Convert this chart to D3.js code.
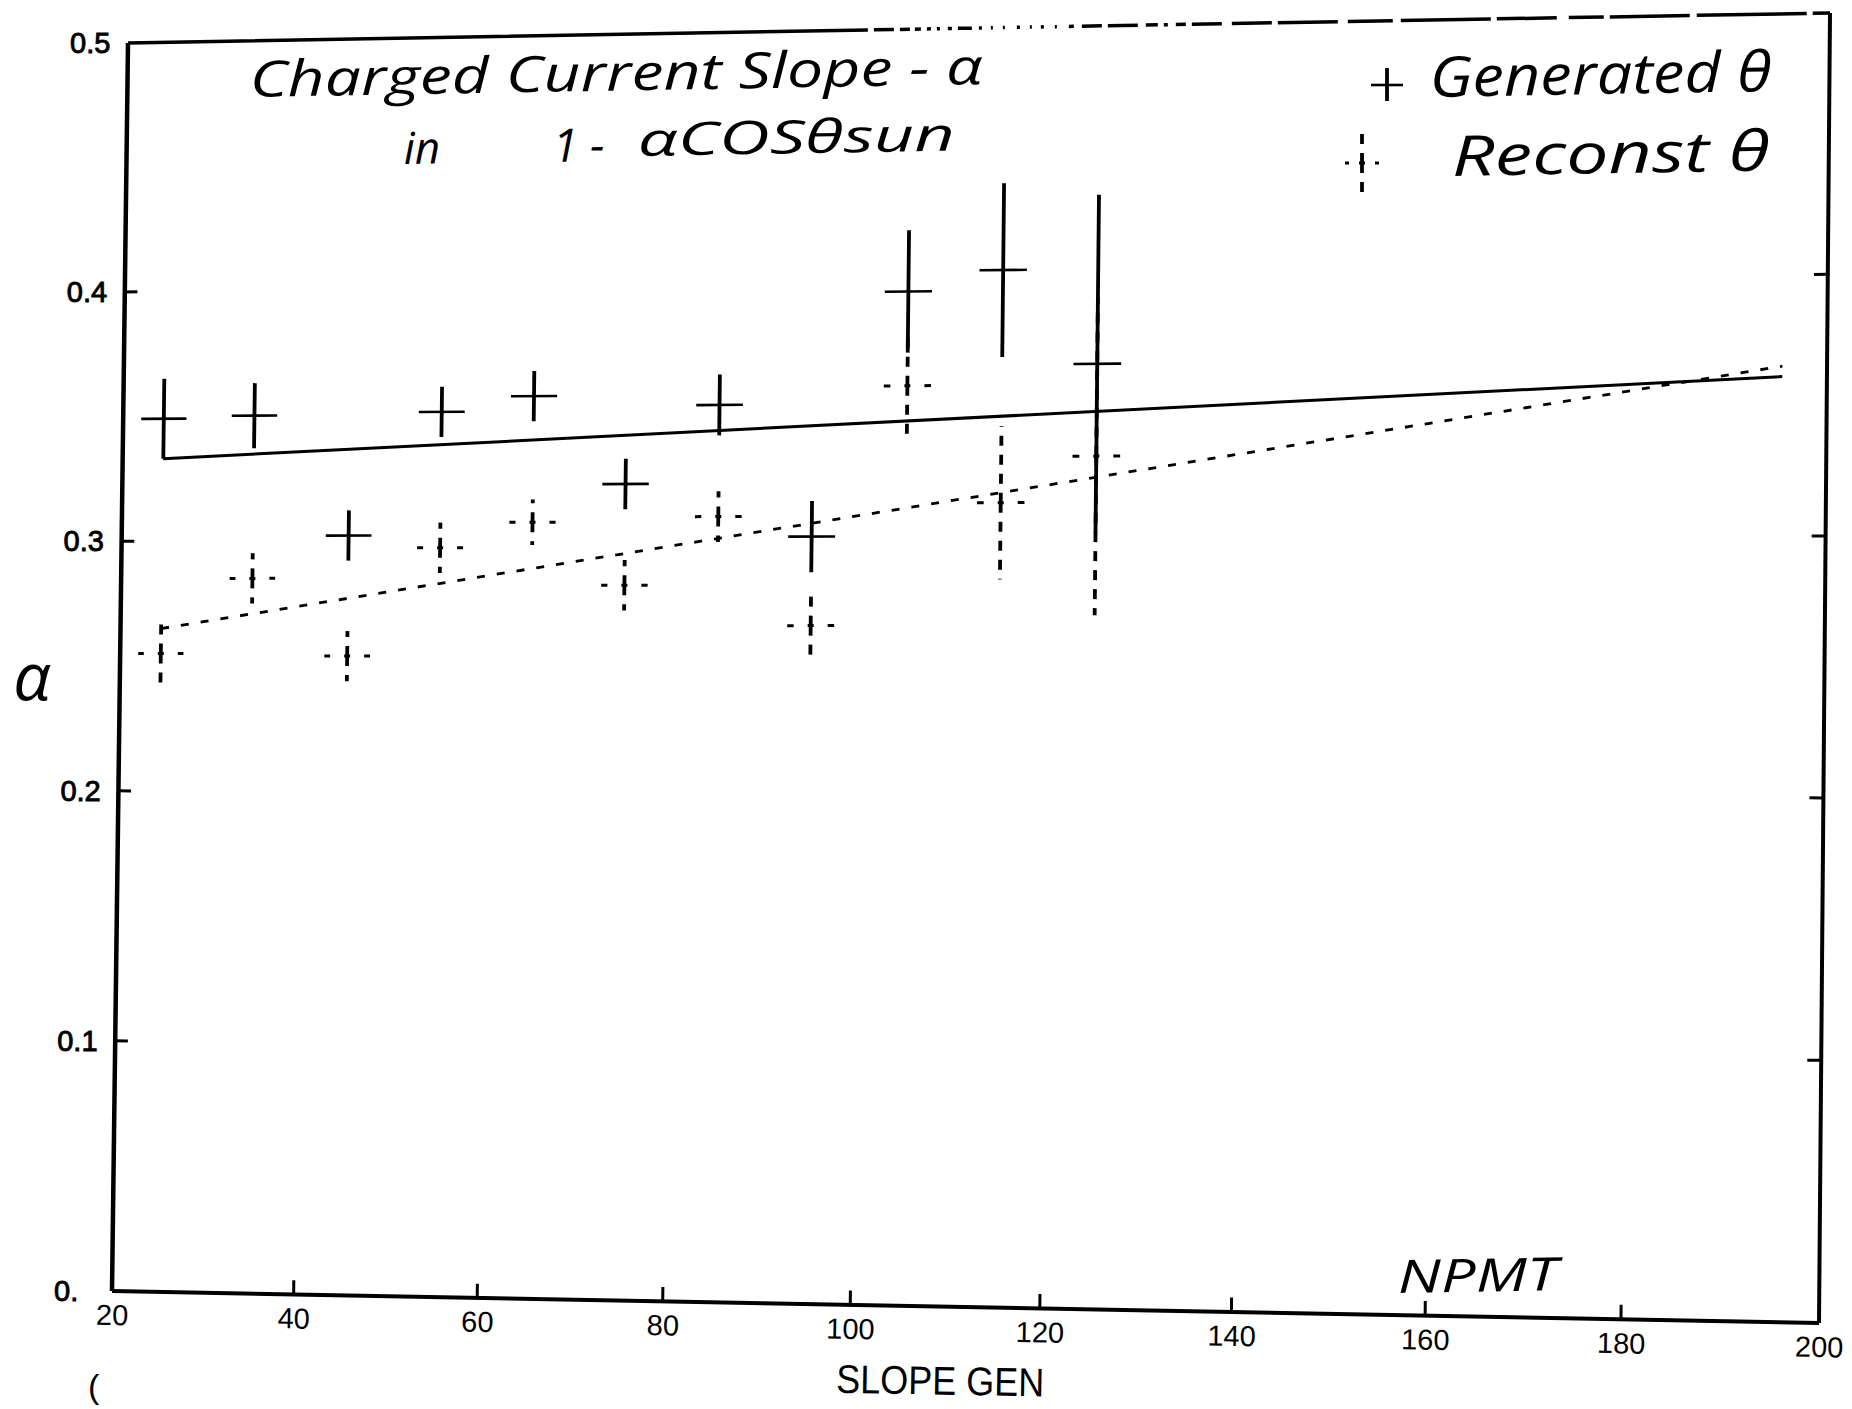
<!DOCTYPE html>
<html>
<head>
<meta charset="utf-8">
<script src="https://cdn.jsdelivr.net/npm/d3@7"></script>
<style>
  html, body { margin: 0; padding: 0; background: #fff; }
  svg { display: block; }
  .tick-label { font-family: "Liberation Sans", Arial, sans-serif; fill: #000; }
  .hand { font-family: "Open Sans", "DejaVu Sans", sans-serif; font-style: italic; fill: #000; }
</style>
</head>
<body>
<div id="plot"></div>
<script>
// alpha fit results per NPMT bin
const npmt     = [24.5, 34.5, 45, 55, 65, 75, 85, 95, 105, 115, 125];
const alphaGen = [0.349, 0.350, 0.302, 0.351, 0.357, 0.322, 0.353, 0.301, 0.397, 0.405, 0.368];
const errGen   = [0.016, 0.013, 0.010, 0.010, 0.010, 0.010, 0.012, 0.014, 0.024, 0.034, 0.066];
const alphaRec = [0.255, 0.285, 0.254, 0.297, 0.307, 0.282, 0.309, 0.266, 0.360, 0.314, 0.332];
const errRec   = [0.014, 0.010, 0.010, 0.010, 0.009, 0.010, 0.010, 0.013, 0.020, 0.030, 0.062];
const binHalf  = 2.5;

// straight-line fits
const fitX   = [24.5, 195.5];
const fitGen = [0.333, 0.361];
const fitRec = [0.265, 0.365];

const xTicks = [20, 40, 60, 80, 100, 120, 140, 160, 180, 200];
const yTicks = [0, 0.1, 0.2, 0.3, 0.4, 0.5];
const yTickLabels = ["0.", "0.1", "0.2", "0.3", "0.4", "0.5"];

const width = 1852, height = 1409;

const svg = d3.select('#plot').append('svg')
  .attr('width', width)
  .attr('height', height);

const x = d3.scaleLinear().domain([20, 200]).range([0, 1]);
const y = d3.scaleLinear().domain([0, 0.5]).range([0, 1]);

// the printed sheet sits a little askew: map the unit square onto its frame
function quadMap(p00, p10, p11, p01) {
  const [x0, y0] = p00, [x1, y1] = p10, [x2, y2] = p11, [x3, y3] = p01;
  const dx1 = x1 - x2, dx2 = x3 - x2, dx3 = x0 - x1 + x2 - x3;
  const dy1 = y1 - y2, dy2 = y3 - y2, dy3 = y0 - y1 + y2 - y3;
  const den = dx1 * dy2 - dx2 * dy1;
  const g = (dx3 * dy2 - dx2 * dy3) / den;
  const h = (dx1 * dy3 - dx3 * dy1) / den;
  const a = x1 - x0 + g * x1, b = x3 - x0 + h * x3, c = x0;
  const d = y1 - y0 + g * y1, e = y3 - y0 + h * y3, f = y0;
  return (u, v) => {
    const w = g * u + h * v + 1;
    return [(a * u + b * v + c) / w, (d * u + e * v + f) / w];
  };
}
const sheet = quadMap([112, 1291], [1819, 1323], [1830, 13], [128, 43]);
const P = (xv, yv) => sheet(x(xv), y(yv));

const line = d3.line();
const seg = (g, a, b) => g.append('path').attr('d', line([a, b]));

// frame; the top edge is only partly inked
const frame = svg.append('g').attr('fill', 'none').attr('stroke', '#000');
seg(frame, P(20, 0), P(20, 0.5)).attr('stroke-width', 4.5);
seg(frame, P(20, 0), P(200, 0)).attr('stroke-width', 4);
seg(frame, P(200, 0), P(200, 0.5)).attr('stroke-width', 4);
const topDash = [740, 6, 20, 6, 10, 5, 6, 6, 4, 6, 3, 8, 4, 6, 14, 7, 3, 9, 2, 10, 2, 12, 3, 10, 2, 9,
  3, 11, 2, 12, 5, 8, 20, 6, 30, 8, 12, 6, 4, 8, 10, 6, 30, 10, 40, 6,
  60, 10, 45, 8, 90, 6, 60, 12, 35, 6, 80, 7, 110, 6, 70, 8, 400, 0];
seg(frame, P(20, 0.5), P(200, 0.5)).attr('stroke-width', 3.5)
  .attr('stroke-dasharray', topDash.join(','));

// ticks, pointing into the frame
const ticks = svg.append('g').attr('stroke', '#000').attr('stroke-width', 3).attr('fill', 'none');
xTicks.slice(1, -1).forEach(t => seg(ticks, P(t, 0), P(t, 0.0056)));
yTicks.slice(1, -1).forEach(t => {
  seg(ticks, P(20, t), P(21.4, t));
  seg(ticks, P(200, t), P(198.6, t));
});

// tick labels
const labels = svg.append('g');
xTicks.forEach(t => {
  const [px, py] = P(t, 0);
  labels.append('text')
    .attr('class', 'tick-label')
    .attr('x', px).attr('y', py + 34)
    .attr('text-anchor', 'middle')
    .attr('font-size', 29)
    .attr('transform', `rotate(1, ${px}, ${py + 34})`)
    .text(t);
});
yTicks.forEach((t, i) => {
  const [px, py] = P(20, t);
  labels.append('text')
    .attr('class', 'tick-label')
    .attr('x', px - 58).attr('y', py + 10)
    .attr('font-size', 29)
    .attr('stroke', '#000').attr('stroke-width', 0.9)
    .text(yTickLabels[i]);
});

// axis titles
const [tx, ty] = P(109.5, 0);
svg.append('text')
  .attr('class', 'tick-label')
  .attr('transform', `translate(${tx}, ${ty + 88}) rotate(1) scale(0.9, 1)`)
  .attr('text-anchor', 'middle')
  .attr('font-size', 40)
  .attr('fill', '#222')
  .text('SLOPE GEN');
svg.append('text')
  .attr('class', 'tick-label')
  .attr('x', 88).attr('y', 1398)
  .attr('font-size', 34)
  .text('(');
svg.append('text')
  .attr('class', 'hand')
  .attr('x', 32).attr('y', 700)
  .attr('text-anchor', 'middle')
  .attr('font-size', 66)
  .attr('font-style', 'normal')
  .text('α');

// fit lines
svg.append('path')
  .attr('d', line(fitX.map((v, i) => P(v, fitGen[i]))))
  .attr('fill', 'none').attr('stroke', '#000').attr('stroke-width', 3);
svg.append('path')
  .attr('d', line(fitX.map((v, i) => P(v, fitRec[i]))))
  .attr('fill', 'none').attr('stroke', '#000').attr('stroke-width', 2.8)
  .attr('stroke-dasharray', '8,12');

// generated theta: solid crosses
const gen = svg.append('g').attr('stroke', '#000').attr('fill', 'none');
npmt.forEach((n, i) => {
  const a = alphaGen[i], e = errGen[i];
  seg(gen, P(n, a - e), P(n, a + e)).attr('stroke-width', 3.8);
  seg(gen, P(n - binHalf, a), P(n + binHalf, a)).attr('stroke-width', 2.6);
});

// reconstructed theta: dashed crosses, dashes laid out from the centre
const rec = svg.append('g').attr('stroke', '#000').attr('fill', 'none');
npmt.forEach((n, i) => {
  const a = alphaRec[i], e = errRec[i];
  const c = P(n, a);
  seg(rec, c, P(n, a + e)).attr('stroke-width', 3.8).attr('stroke-dasharray', '10,9');
  seg(rec, c, P(n, a - e)).attr('stroke-width', 3.8).attr('stroke-dasharray', '10,9');
  seg(rec, c, P(n - binHalf, a)).attr('stroke-width', 3).attr('stroke-dasharray', '3,14,8');
  seg(rec, c, P(n + binHalf, a)).attr('stroke-width', 3).attr('stroke-dasharray', '3,14,8');
});

// hand-written notes
const notes = svg.append('g');
const hand = (txt, px, py, size, len) => {
  const t = notes.append('text')
    .attr('class', 'hand')
    .attr('x', px).attr('y', py)
    .attr('font-size', size)
    .attr('transform', `rotate(-1, ${px}, ${py})`)
    .text(txt);
  if (len) t.attr('textLength', len).attr('lengthAdjust', 'spacingAndGlyphs');
  return t;
};
hand('Charged Current Slope - α', 250, 97, 50, 733);
hand('in', 404, 164, 44);
hand('1 -', 553, 162, 46);
hand('αCOSθsun', 638, 156, 46, 317);
hand('Generated θ', 1430, 97, 56, 342);
hand('Reconst θ', 1452, 176, 56, 318);
hand('NPMT', 1398, 1293, 46, 160);

// legend marks
const lg = svg.append('g').attr('stroke', '#000').attr('fill', 'none');
seg(lg, [1387, 68], [1387, 101]).attr('stroke-width', 3.8);
seg(lg, [1371, 85], [1403, 85]).attr('stroke-width', 2.6);
seg(lg, [1362, 163], [1362, 130]).attr('stroke-width', 3.8).attr('stroke-dasharray', '10,9');
seg(lg, [1362, 163], [1362, 198]).attr('stroke-width', 3.8).attr('stroke-dasharray', '10,9');
seg(lg, [1362, 163], [1345, 163]).attr('stroke-width', 3).attr('stroke-dasharray', '3,10,6');
seg(lg, [1362, 163], [1379, 163]).attr('stroke-width', 3).attr('stroke-dasharray', '3,10,6');
</script>
</body>
</html>
